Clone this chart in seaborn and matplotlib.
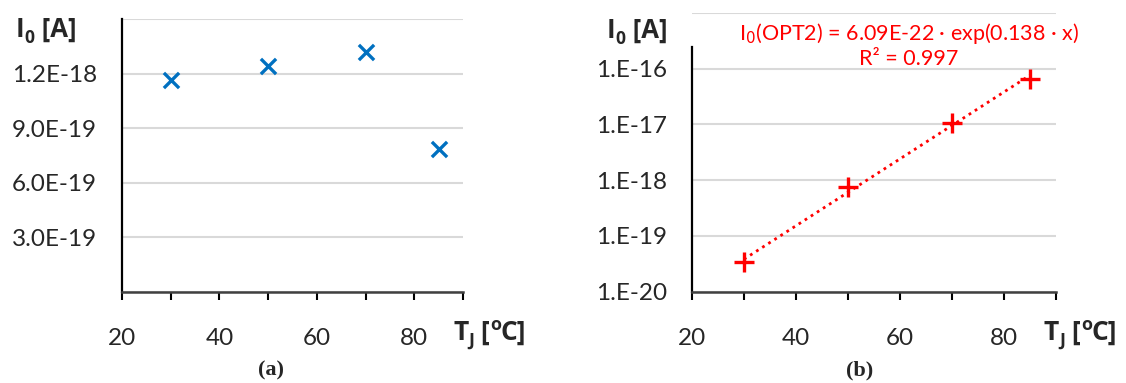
import numpy as np
import pandas as pd
import matplotlib
matplotlib.use("Agg")
import matplotlib.pyplot as plt
import seaborn as sns

# Junction temperatures and extracted saturation currents
temps = [30, 50, 70, 85]
i0_opt1 = [1.167e-18, 1.244e-18, 1.323e-18, 0.789e-18]
i0_opt2 = [3.37e-20, 7.43e-19, 1.07e-17, 6.56e-17]

# Exponential trend for OPT2: I0 = a * exp(b * T)
fit_a = 6.09e-22
fit_b = 0.138
fit_r2 = 0.997

x_ticks = [20, 30, 40, 50, 60, 70, 80, 90]
x_labels = ["20", "", "40", "", "60", "", "80", ""]
lin_ticks = [0, 3e-19, 6e-19, 9e-19, 1.2e-18, 1.5e-18]
lin_labels = ["", "3.0E-19", "6.0E-19", "9.0E-19", "1.2E-18", ""]
log_ticks = [1e-20, 1e-19, 1e-18, 1e-17, 1e-16, 1e-15]
log_labels = ["1.E-20", "1.E-19", "1.E-18", "1.E-17", "1.E-16", ""]

sns.set_theme(style="white")
plt.rcParams["font.family"] = ["Lato", "DejaVu Sans"]

BLUE = "#0070C0"
RED = "#FF0000"
GRID = "#D9D9D9"
AXIS = "#404040"
TICK_FS = 17.5
BOLD_FAMILY = ["Open Sans", "DejaVu Sans"]

W, H = 1126, 383
fig = plt.figure(figsize=(W / 100, H / 100), dpi=100)
ax1 = fig.add_axes([0.10835, 0.23760, 0.30284, 0.71149])
ax2 = fig.add_axes([0.61456, 0.23838, 0.32327, 0.72846])

df1 = pd.DataFrame({"T": temps, "I0": i0_opt1})
df2 = pd.DataFrame({"T": temps, "I0": i0_opt2})

sns.scatterplot(data=df1, x="T", y="I0", ax=ax1, marker="x", s=120,
                linewidth=2.4, color=BLUE, zorder=4)

ax2.set_yscale("log")
trend = pd.DataFrame({"T": [temps[0], temps[-1]],
                      "I0": [fit_a * np.exp(fit_b * temps[0]),
                             fit_a * np.exp(fit_b * temps[-1])]})
sns.lineplot(data=trend, x="T", y="I0", ax=ax2, color=RED, linewidth=2.0,
             linestyle=(0, (1, 1.6)), zorder=3)
sns.scatterplot(data=df2, x="T", y="I0", ax=ax2, marker="+", s=200,
                linewidth=2.4, color=RED, zorder=4)

for ax in (ax1, ax2):
    ax.set_xlim(20, 90)
    ax.set_xticks(x_ticks)
    ax.set_xticklabels(x_labels, fontsize=TICK_FS)
    ax.set_xlabel("")
    ax.set_ylabel("")
    ax.grid(axis="y", color=GRID, linewidth=1.5, zorder=0)
    ax.grid(axis="x", visible=False)
    for s in ("top", "right"):
        ax.spines[s].set_visible(False)
    ax.spines["left"].set_color("black")
    ax.spines["left"].set_linewidth(1.6)
    ax.spines["bottom"].set_color(AXIS)
    ax.spines["bottom"].set_linewidth(1.8)
    ax.spines["left"].set_zorder(5)
    ax.spines["bottom"].set_zorder(5)
    ax.tick_params(axis="x", direction="out", length=6, width=1.5,
                   color="black", pad=20, labelsize=TICK_FS, bottom=True)
    ax.tick_params(axis="y", length=0, pad=18, labelsize=TICK_FS, left=False)
    ax.minorticks_off()

ax1.set_ylim(0, 1.5e-18)
ax1.set_yticks(lin_ticks)
ax1.set_yticklabels(lin_labels)

ax2.set_ylim(1e-20, 1e-15)
ax2.set_yticks(log_ticks)
ax2.set_yticklabels(log_labels)
ax2.minorticks_off()
ax2.spines["left"].set_bounds(1e-20, 2.45e-16)

# Trend line equation
eq = f"I$_0$(OPT2) = {fit_a:.2E} · exp({fit_b:.3f} · x)"
ax2.text(0.595, 0.927, eq, transform=ax2.transAxes, ha="center", va="center",
         color=RED, fontsize=15.5, zorder=6)
ax2.text(0.595, 0.834, f"R² = {fit_r2:.3f}", transform=ax2.transAxes,
         ha="center", va="center", color=RED, fontsize=15.5, zorder=6)

renderer = fig.canvas.get_renderer()


def rich_label(x_px, base_px, parts, size):
    """Bold label built from pieces: normal, subscript and superscript."""
    x = x_px
    for s, kind in parts:
        fs = size if kind == "n" else size * 0.68
        px = size * 100 / 72
        dy = {"n": 0.0, "sub": -0.22 * px, "sup": 0.38 * px}[kind]
        t = fig.text(x / W, 1 - (base_px - dy) / H, s, fontsize=fs,
                     fontweight="bold", family=BOLD_FAMILY,
                     ha="left", va="baseline")
        x += t.get_window_extent(renderer).width


title_parts = [("I", "n"), ("0", "sub"), (" [A]", "n")]
xlab_parts = [("T", "n"), ("J", "sub"), (" [", "n"), ("o", "sup"), ("C]", "n")]
rich_label(16, 37, title_parts, 18.5)
rich_label(607, 38, title_parts, 18.5)
rich_label(453, 340, xlab_parts, 19)
rich_label(1044, 340, xlab_parts, 19)

# Panel labels
fig.text(271 / W, 1 - 370 / H, "(a)", fontsize=16, fontweight="bold",
         family="Liberation Serif", ha="center", va="center")
fig.text(860 / W, 1 - 370 / H, "(b)", fontsize=16, fontweight="bold",
         family="Liberation Serif", ha="center", va="center")

fig.savefig("out.png", dpi=100, facecolor="white")
